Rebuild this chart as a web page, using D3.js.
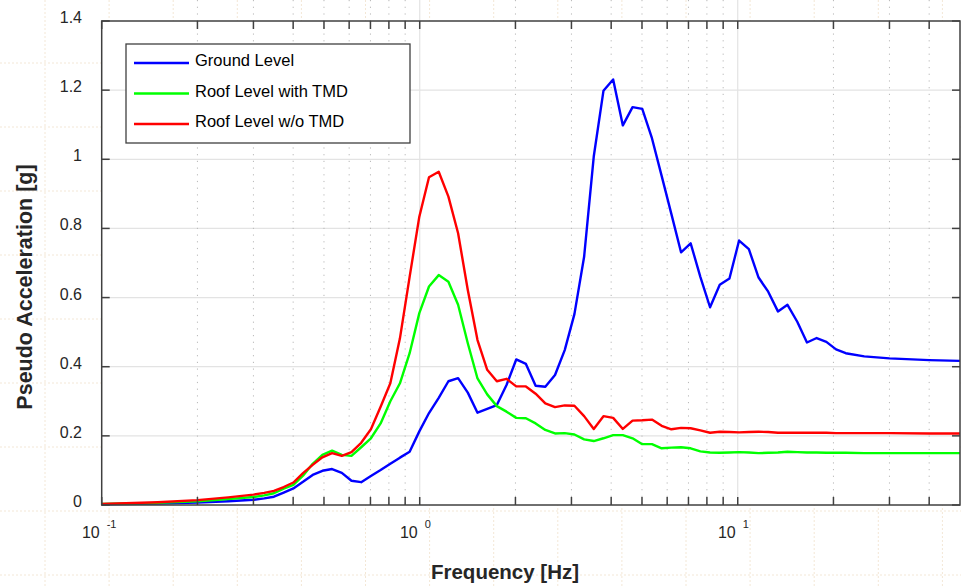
<!DOCTYPE html>
<html>
<head>
<meta charset="utf-8">
<script src="https://cdn.jsdelivr.net/npm/d3@7/dist/d3.min.js"></script>
<style>
  body { margin: 0; background: #fff; }
  svg { display: block; font-family: "Liberation Sans", Arial, sans-serif; }
</style>
</head>
<body>
<svg id="chart" width="961" height="586"></svg>
<script>
// frequencies [Hz]
const freq = [0.1, 0.15, 0.2, 0.25, 0.3, 0.3245, 0.348, 0.3735, 0.4006, 0.4296,
  0.4607, 0.4943, 0.5302, 0.5689, 0.6101, 0.6546, 0.7023, 0.7535, 0.8084, 0.8666,
  0.9296, 0.9972, 1.0696, 1.1476, 1.231, 1.3205, 1.4165, 1.5196, 1.6302, 1.7478,
  1.875, 2.0114, 2.1577, 2.3147, 2.4831, 2.6637, 2.8576, 3.0655, 3.2885, 3.5261,
  3.7826, 4.0579, 4.3531, 4.6698, 5.0095, 5.3739, 5.7649, 6.1842, 6.6341, 7.1121,
  7.6295, 8.1846, 8.7801, 9.4188, 10.10, 10.84, 11.63, 12.47, 13.38, 14.34,
  15.39, 16.51, 17.71, 19.00, 20.38, 21.86, 25, 30, 40, 50];

const ground = [0.002, 0.004, 0.007, 0.011, 0.015, 0.019, 0.024, 0.036, 0.048, 0.067,
  0.087, 0.099, 0.104, 0.093, 0.070, 0.066, 0.084, 0.101, 0.119, 0.137,
  0.154, 0.213, 0.266, 0.310, 0.358, 0.367, 0.325, 0.267, 0.278, 0.289,
  0.347, 0.421, 0.408, 0.345, 0.342, 0.376, 0.448, 0.552, 0.718, 1.008,
  1.198, 1.231, 1.098, 1.151, 1.146, 1.061, 0.952, 0.842, 0.731, 0.757,
  0.660, 0.572, 0.637, 0.655, 0.765, 0.740, 0.658, 0.617, 0.560, 0.579,
  0.530, 0.470, 0.483, 0.472, 0.450, 0.439, 0.430, 0.424, 0.419, 0.417];

const roofTMD = [0.003, 0.006, 0.011, 0.017, 0.023, 0.028, 0.034, 0.047, 0.058, 0.085,
  0.119, 0.145, 0.157, 0.145, 0.142, 0.167, 0.193, 0.236, 0.300, 0.352,
  0.439, 0.555, 0.632, 0.665, 0.646, 0.579, 0.468, 0.366, 0.320, 0.286,
  0.270, 0.252, 0.251, 0.236, 0.217, 0.207, 0.208, 0.204, 0.190, 0.185,
  0.193, 0.202, 0.202, 0.193, 0.176, 0.176, 0.164, 0.166, 0.167, 0.164,
  0.155, 0.152, 0.151, 0.152, 0.153, 0.152, 0.150, 0.151, 0.152, 0.154,
  0.153, 0.152, 0.152, 0.151, 0.151, 0.151, 0.150, 0.150, 0.150, 0.150];

const roofNoTMD = [0.003, 0.008, 0.014, 0.022, 0.030, 0.035, 0.041, 0.052, 0.065, 0.092,
  0.116, 0.138, 0.150, 0.142, 0.153, 0.180, 0.219, 0.284, 0.352, 0.482,
  0.660, 0.834, 0.948, 0.964, 0.892, 0.786, 0.622, 0.477, 0.391, 0.358,
  0.365, 0.343, 0.343, 0.322, 0.294, 0.283, 0.288, 0.287, 0.257, 0.220,
  0.257, 0.252, 0.220, 0.244, 0.245, 0.247, 0.229, 0.219, 0.223, 0.222,
  0.216, 0.209, 0.212, 0.211, 0.210, 0.211, 0.212, 0.211, 0.209, 0.209,
  0.209, 0.209, 0.209, 0.209, 0.208, 0.208, 0.208, 0.208, 0.207, 0.207];

const seriesNames = ["Ground Level", "Roof Level with TMD", "Roof Level w/o TMD"];
const seriesColors = ["#0000ff", "#00ff00", "#ff0000"];
const yTicks = [0, 0.2, 0.4, 0.6, 0.8, 1, 1.2, 1.4];
const yTickLabels = ["0", "0.2", "0.4", "0.6", "0.8", "1", "1.2", "1.4"];
const xMajor = [0.1, 1, 10];
const xExponents = ["-1", "0", "1"];

const svg = d3.select("#chart");
const W = 961, H = 586;
const plotL = 101.7, plotR = 960, plotT = 21, plotB = 505;

const x = d3.scaleLog().domain([0.1, 50]).range([plotL, plotR]);
const y = d3.scaleLinear().domain([0, 1.4]).range([plotB, plotT]);

// faint paper grid behind everything
const bg = svg.append("g");
for (let gy = 63; gy < H; gy += 64) {
  bg.append("line").attr("x1", 0).attr("x2", W).attr("y1", gy).attr("y2", gy)
    .attr("stroke", "#f3e7d6").attr("stroke-dasharray", "2,2");
}
for (let gx = 45; gx < W; gx += 64.1) {
  bg.append("line").attr("x1", gx).attr("x2", gx).attr("y1", 0).attr("y2", H)
    .attr("stroke", "#f3e7d6").attr("stroke-dasharray", "2,2");
}

svg.append("rect").attr("x", plotL).attr("y", plotT)
  .attr("width", plotR - plotL).attr("height", plotB - plotT).attr("fill", "#fff");

// minor tick positions
let xMinor = [];
[0.1, 1, 10].forEach(d => {
  for (let m = 2; m <= 9; m++) if (d * m < 50) xMinor.push(d * m);
});

const grid = svg.append("g");
grid.selectAll(".hg").data(yTicks.slice(1, -1)).enter().append("line")
  .attr("x1", plotL).attr("x2", plotR).attr("y1", d => y(d)).attr("y2", d => y(d))
  .attr("stroke", "#e3e3e3").attr("stroke-width", 1.2);
grid.selectAll(".vmaj").data([1, 10]).enter().append("line")
  .attr("x1", d => x(d)).attr("x2", d => x(d)).attr("y1", 0).attr("y2", plotB)
  .attr("stroke", "#e3e3e3").attr("stroke-width", 1.2);
grid.selectAll(".vmin").data(xMinor).enter().append("line")
  .attr("x1", d => x(d)).attr("x2", d => x(d)).attr("y1", 0).attr("y2", plotB)
  .attr("stroke", "#b8b8b8").attr("stroke-width", 1).attr("stroke-dasharray", "1.2,5.5");

// data lines
const allSeries = [ground, roofTMD, roofNoTMD];
const line = d3.line().x((d, i) => x(freq[i])).y(d => y(d));
svg.append("g").selectAll("path").data(allSeries).enter().append("path")
  .attr("d", d => line(d))
  .attr("fill", "none")
  .attr("stroke", (d, i) => seriesColors[i])
  .attr("stroke-width", 2.4)
  .attr("stroke-linejoin", "round");

// box and ticks
const axisColor = "#404040";
const ax = svg.append("g").attr("stroke", axisColor).attr("stroke-width", 1.5);
ax.append("rect").attr("x", plotL).attr("y", plotT)
  .attr("width", plotR - plotL).attr("height", plotB - plotT).attr("fill", "none");
yTicks.forEach(v => {
  ax.append("line").attr("x1", plotL).attr("x2", plotL + 8).attr("y1", y(v)).attr("y2", y(v));
  ax.append("line").attr("x1", plotR - 8).attr("x2", plotR).attr("y1", y(v)).attr("y2", y(v));
});
xMajor.concat(xMinor).forEach(v => {
  ax.append("line").attr("x1", x(v)).attr("x2", x(v)).attr("y1", plotB).attr("y2", plotB - 8);
  ax.append("line").attr("x1", x(v)).attr("x2", x(v)).attr("y1", plotT).attr("y2", plotT + 8);
});

// tick labels
const labels = svg.append("g").attr("fill", "#262626");
yTicks.forEach((v, i) => {
  labels.append("text").attr("x", 82).attr("y", y(v) + 2)
    .attr("text-anchor", "end").attr("font-size", 16).text(yTickLabels[i]);
});
xMajor.forEach((v, i) => {
  labels.append("text").attr("x", x(v) - 2).attr("y", 538)
    .attr("text-anchor", "end").attr("font-size", 16).text("10");
  labels.append("text").attr("x", x(v) + 5).attr("y", 528)
    .attr("font-size", 11).text(xExponents[i]);
});

// axis titles
svg.append("text").attr("x", 505).attr("y", 579).attr("text-anchor", "middle")
  .attr("font-size", 20.5).attr("font-weight", "bold").attr("fill", "#262626")
  .text("Frequency [Hz]");
svg.append("text").attr("transform", "translate(32,287) rotate(-90)")
  .attr("text-anchor", "middle").attr("font-size", 21.5).attr("font-weight", "bold")
  .attr("fill", "#262626").text("Pseudo Acceleration [g]");

// legend
const lg = svg.append("g");
lg.append("rect").attr("x", 126).attr("y", 44).attr("width", 284).attr("height", 99)
  .attr("fill", "#fff").attr("stroke", axisColor).attr("stroke-width", 1.3);
seriesNames.forEach((name, i) => {
  const ly = 63 + i * 30.5;
  lg.append("line").attr("x1", 134).attr("x2", 189).attr("y1", ly).attr("y2", ly)
    .attr("stroke", seriesColors[i]).attr("stroke-width", 2.4);
  lg.append("text").attr("x", 195).attr("y", ly + 3).attr("font-size", 16.5)
    .attr("fill", "#000").text(name);
});
</script>
</body>
</html>
